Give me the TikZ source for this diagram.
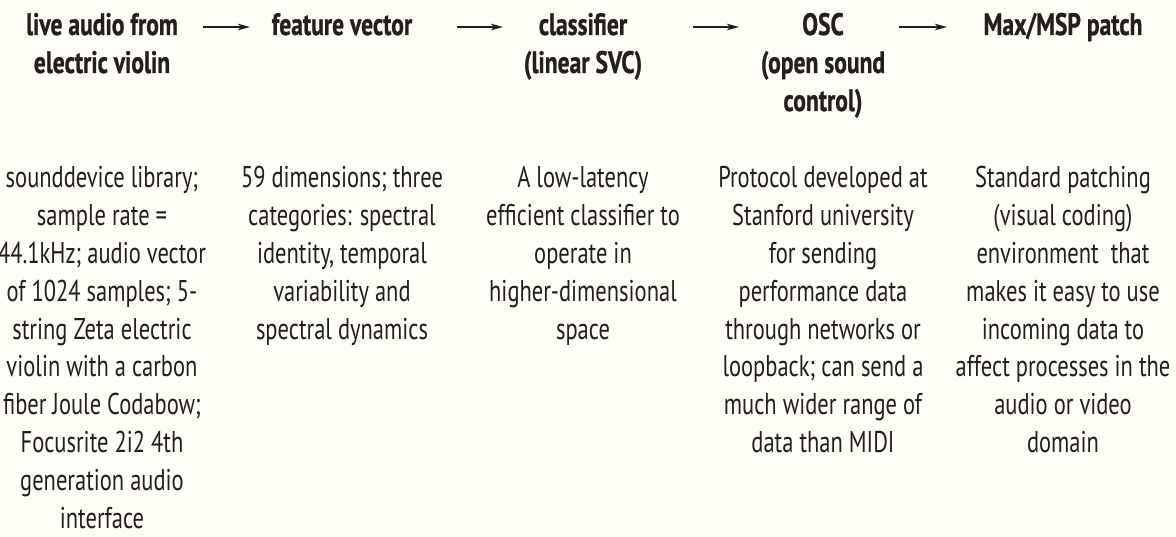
\documentclass[tikz,border=0pt]{standalone}
\usepackage{fontspec}
\usetikzlibrary{arrows.meta}
\newfontfamily\descfont{PT Sans}[FakeStretch=0.75]
\newfontfamily\headfont{PT Sans}[FakeStretch=0.76,FakeBold=0.8]
\definecolor{bg}{HTML}{FEFDF6}
\definecolor{ink}{HTML}{231F20}
\tikzset{
  hd/.style={inner sep=0pt, anchor=base, text=ink,
    font=\headfont\bfseries\fontsize{31}{38}\selectfont},
  desc/.style={inner sep=0pt, anchor=base, text=ink,
    font=\descfont\fontsize{30}{37.8}\selectfont},
  flow/.style={draw=ink, line width=1.4pt,
    -{Stealth[length=12pt,width=6.5pt,inset=3pt]}}
}
\newcommand{\colbox}[1]{\parbox[t]{300pt}{\centering #1}}
\begin{document}
\begin{tikzpicture}[x=1pt,y=1pt]
\fill[bg] (0,0) rectangle (1176,-537);
\useasboundingbox (0,0) rectangle (1176,-537);
% headers
\node[hd] (h1) at (102,-35) {\colbox{live audio from\\electric violin}};
\node[hd] (h2) at (342,-35) {\colbox{feature vector}};
\node[hd] (h3) at (583,-35) {\colbox{classifier\\(linear SVC)}};
\node[hd] (h4) at (823,-35) {\colbox{OSC\\(open sound\\control)}};
\node[hd] (h5) at (1063,-35) {\colbox{Max/MSP patch}};
% arrow end points
\coordinate (a1s) at (203,-27); \coordinate (a1e) at (250,-27);
\coordinate (a2s) at (457,-27); \coordinate (a2e) at (503,-27);
\coordinate (a3s) at (693,-27); \coordinate (a3e) at (739,-27);
\coordinate (a4s) at (899,-27); \coordinate (a4e) at (947,-27);
\draw[flow] (a1s) -- (a1e);
\draw[flow] (a2s) -- (a2e);
\draw[flow] (a3s) -- (a3e);
\draw[flow] (a4s) -- (a4e);
% descriptions
\node[desc] (d1) at (102,-188) {\colbox{sounddevice library;\\sample rate =\\44.1kHz; audio vector\\of 1024 samples; 5-\\string Zeta electric\\violin with a carbon\\fiber Joule Codabow;\\Focusrite 2i2 4th\\generation audio\\interface}};
\node[desc] (d2) at (342,-188) {\colbox{59 dimensions; three\\categories: spectral\\identity, temporal\\variability and\\spectral dynamics}};
\node[desc] (d3) at (583,-188) {\colbox{A low-latency\\efficient classifier to\\operate in\\higher-dimensional\\space}};
\node[desc] (d4) at (823,-188) {\colbox{Protocol developed at\\Stanford university\\for sending\\performance data\\through networks or\\loopback; can send a\\much wider range of\\data than MIDI}};
\node[desc] (d5) at (1063,-188) {\colbox{Standard patching\\(visual coding)\\environment\ \ that\\makes it easy to use\\incoming data to\\affect processes in the\\audio or video\\domain}};
\end{tikzpicture}
\end{document}
